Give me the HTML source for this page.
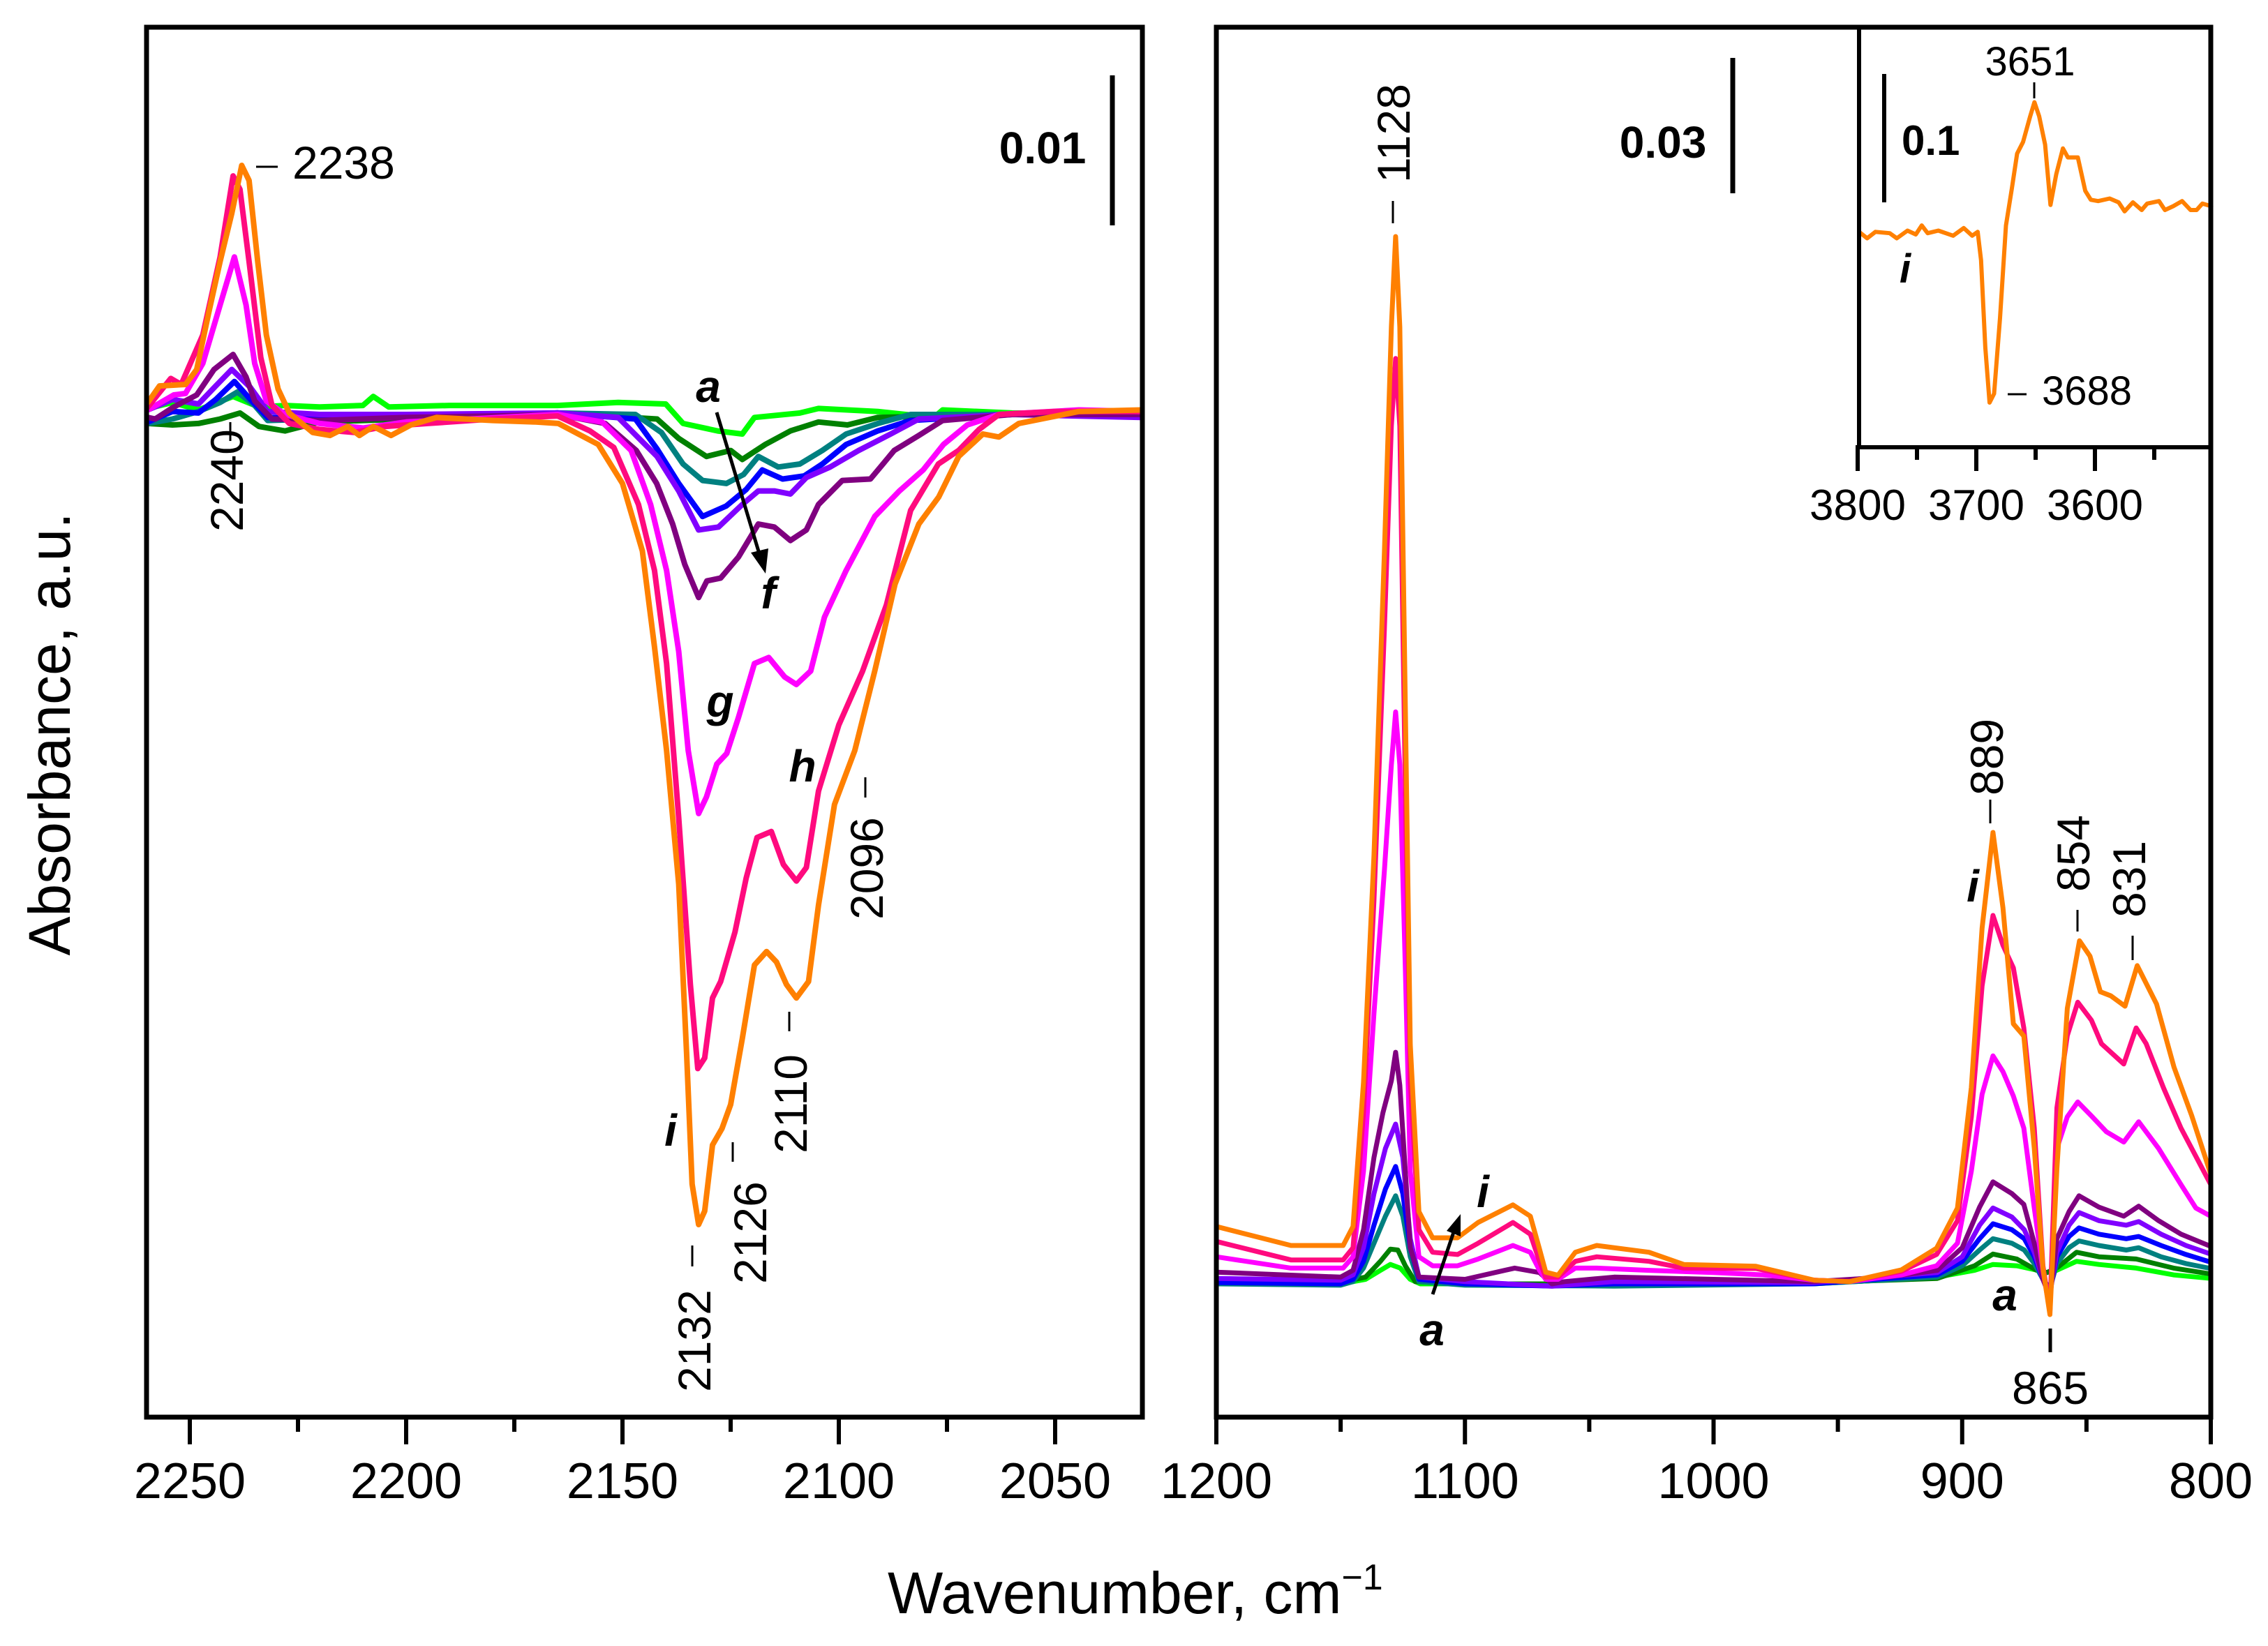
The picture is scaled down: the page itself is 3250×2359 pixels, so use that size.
<!DOCTYPE html>
<html><head><meta charset="utf-8"><title>IR spectra</title>
<style>
html,body{margin:0;padding:0;background:#fff;}
svg{display:block;font-family:"Liberation Sans",Arial,sans-serif;}
</style></head>
<body>
<svg id="chart" width="3250" height="2359" viewBox="0 0 3250 2359" xmlns="http://www.w3.org/2000/svg">
<rect x="0" y="0" width="3250" height="2359" fill="#fff"/>
<g id="left-curves"></g>
<g id="right-curves"></g>
<g id="inset-curves"></g>
<g id="axes"></g>
<g id="labels" font-size="66">
  <line x1="367" y1="239" x2="398" y2="239" stroke="#000" stroke-width="3"/>
  <text x="419" y="256">2238</text>
  <line x1="330" y1="605" x2="330" y2="632" stroke="#000" stroke-width="3"/>
  <text transform="translate(348,762) rotate(-90)">2240</text>
  <line x1="992" y1="1785" x2="992" y2="1815" stroke="#000" stroke-width="3"/>
  <text transform="translate(1018,1995) rotate(-90)">2132</text>
  <line x1="1050" y1="1637" x2="1050" y2="1665" stroke="#000" stroke-width="3"/>
  <text transform="translate(1098,1840) rotate(-90)">2126</text>
  <line x1="1131" y1="1450" x2="1131" y2="1478" stroke="#000" stroke-width="3"/>
  <text transform="translate(1156,1653) rotate(-90)">2110</text>
  <line x1="1240" y1="1114" x2="1240" y2="1143" stroke="#000" stroke-width="3"/>
  <text transform="translate(1265,1318) rotate(-90)">2096</text>
  <text x="1494" y="234" text-anchor="middle" font-weight="bold" font-size="64">0.01</text>
  <line x1="1594" y1="108" x2="1594" y2="323" stroke="#000" stroke-width="7"/>
  <g font-weight="bold" font-style="italic" font-size="64">
    <text x="1015" y="576" text-anchor="middle">a</text>
    <text x="1101" y="872" text-anchor="middle">f</text>
    <text x="1032" y="1027" text-anchor="middle">g</text>
    <text x="1150" y="1120" text-anchor="middle">h</text>
    <text x="961" y="1642" text-anchor="middle">i</text>
  </g>
  <line x1="1027" y1="591" x2="1090" y2="800" stroke="#000" stroke-width="5"/>
  <polygon points="1097,822 1076,792 1101,786" fill="#000"/>
  <line x1="1996" y1="288" x2="1996" y2="320" stroke="#000" stroke-width="3"/>
  <text transform="translate(2020,262) rotate(-90)">1128</text>
  <text x="2383" y="226" text-anchor="middle" font-weight="bold" font-size="64">0.03</text>
  <line x1="2483" y1="83" x2="2483" y2="277" stroke="#000" stroke-width="7"/>
  <line x1="2852" y1="1146" x2="2852" y2="1180" stroke="#000" stroke-width="3"/>
  <text transform="translate(2870,1140) rotate(-90)">889</text>
  <line x1="2977" y1="1304" x2="2977" y2="1335" stroke="#000" stroke-width="3"/>
  <text transform="translate(2994,1278) rotate(-90)">854</text>
  <line x1="3056" y1="1341" x2="3056" y2="1376" stroke="#000" stroke-width="3"/>
  <text transform="translate(3074,1315) rotate(-90)">831</text>
  <line x1="2938" y1="1904" x2="2938" y2="1938" stroke="#000" stroke-width="5"/>
  <text x="2938" y="2012" text-anchor="middle">865</text>
  <g font-weight="bold" font-style="italic" font-size="64">
    <text x="2827" y="1292" text-anchor="middle">i</text>
    <text x="2873" y="1878" text-anchor="middle">a</text>
    <text x="2125" y="1730" text-anchor="middle">i</text>
    <text x="2052" y="1928" text-anchor="middle">a</text>
  </g>
  <line x1="2053" y1="1855" x2="2085" y2="1760" stroke="#000" stroke-width="5"/>
  <polygon points="2093,1740 2093,1772 2073,1764" fill="#000"/>
  <line x1="2700" y1="106" x2="2700" y2="290" stroke="#000" stroke-width="6"/>
  <text x="2725" y="222" font-weight="bold" font-size="60">0.1</text>
  <text x="2909" y="108" text-anchor="middle" font-size="58">3651</text>
  <line x1="2915" y1="118" x2="2915" y2="141" stroke="#000" stroke-width="3"/>
  <line x1="2877" y1="565" x2="2904" y2="565" stroke="#000" stroke-width="3"/>
  <text x="2926" y="580" font-size="58">3688</text>
  <text x="2722" y="405" font-weight="bold" font-style="italic" font-size="58">i</text>
  <text transform="translate(100,1052) rotate(-90)" text-anchor="middle" font-size="84">Absorbance, a.u.</text>
  <text x="1272" y="2312" font-size="84">Wavenumber, cm<tspan dy="-34" font-size="52">−1</tspan></text>
</g>
</svg>
<script>
const seriesNames = ["a","b","c","d","e","f","g","h","i"];
const seriesColors = ["#00ff00","#008000","#008080","#0000ff","#8000ff","#800080","#ff00ff","#ff0a7e","#ff8000"];

const leftA = [[2259.7,0.4],[2254,0.8],[2248,0.3],[2240,1.2],[2234,0.5],[2228,0.6],[2220,0.5],[2210,0.6],[2207.6,1.2],[2204,0.5],[2190,0.6],[2165,0.6],[2151,0.8],[2140,0.7],[2136,-0.6],[2128,-1.1],[2122.3,-1.3],[2119.5,-0.2],[2109,0.1],[2104.7,0.4],[2091,0.2],[2078,-0.2],[2076,0.3],[2060,0.1],[2030,0]];
const leftB = [[2259.7,-0.6],[2254,-0.7],[2248,-0.6],[2243,-0.3],[2238.4,0.1],[2234,-0.8],[2228,-1.1],[2220,-0.5],[2200,-0.3],[2165,0.1],[2142,-0.3],[2137,-1.6],[2130.6,-2.8],[2125,-2.4],[2122.3,-3],[2117,-2],[2111.2,-1.1],[2104.7,-0.5],[2098,-0.7],[2091,-0.2],[2060,0],[2030,0]];
const leftC = [[2259.7,-0.6],[2254,-0.3],[2248,0.2],[2243,0.8],[2239,1.5],[2235,0.6],[2232,-0.4],[2220,-0.3],[2165,0.1],[2147,0],[2141,-1.2],[2136,-3.3],[2131.5,-4.4],[2126,-4.6],[2122,-4],[2118.6,-2.8],[2114,-3.5],[2109,-3.3],[2103.8,-2.4],[2098.3,-1.3],[2091,-0.6],[2083.4,0],[2060,0],[2030,0]];
const leftD = [[2259.7,-0.5],[2254,0.2],[2248,0.1],[2244,1.0],[2239.7,2.2],[2236,1.0],[2232,-0.2],[2220,-0.3],[2165,0.1],[2147,-0.3],[2142,-2.3],[2137,-4.6],[2131.5,-6.8],[2126,-6.1],[2121.4,-5],[2117.7,-3.7],[2113,-4.3],[2108,-4.1],[2103.8,-3.3],[2098.3,-2],[2091,-1.1],[2083.4,-0.4],[2060,0],[2030,0]];
const leftE = [[2259.7,0.3],[2254,1.0],[2248,0.7],[2244,1.9],[2240.3,3.0],[2236,1.8],[2232,0.2],[2220,0],[2200,0],[2165,0.1],[2151,-0.2],[2142,-2.8],[2137,-5.1],[2132.4,-7.7],[2127.8,-7.5],[2122.3,-6],[2118.6,-5.1],[2114.9,-5.1],[2111.2,-5.3],[2107.5,-4.2],[2102,-3.5],[2095.4,-2.4],[2088,-1.3],[2081.5,-0.3],[2060,0],[2030,-0.2]];
const leftF = [[2259.7,-0.2],[2258,-0.3],[2253.7,0.5],[2248.4,1.3],[2244.4,3],[2240,4],[2237,2.5],[2235,0.9],[2231,-0.3],[2220,-0.4],[2200,-0.2],[2180,-0.1],[2165,0],[2154,-0.6],[2146.8,-2.4],[2142.1,-4.6],[2138.4,-7.3],[2135.6,-10],[2132.4,-12.2],[2130.5,-11.1],[2127.3,-10.9],[2123.2,-9.5],[2118.6,-7.3],[2114.9,-7.5],[2111.2,-8.4],[2107.5,-7.7],[2104.7,-6],[2099.2,-4.4],[2092.7,-4.3],[2087.2,-2.4],[2081.5,-1.4],[2076,-0.4],[2060,0],[2030,0]];
const leftG = [[2259.7,0.3],[2253.7,1.3],[2251,1.4],[2247,3.4],[2243,7.3],[2239.7,10.5],[2237,7.3],[2235,3.4],[2232.3,0.9],[2228,0],[2220,-0.6],[2210,-0.9],[2200,-0.5],[2185,-0.3],[2165,0],[2154.7,-0.5],[2148,-2.4],[2143.5,-6],[2139.8,-10.4],[2137,-15.8],[2134.8,-22.4],[2132.4,-26.6],[2130.6,-25.5],[2128.2,-23.3],[2125.9,-22.6],[2123.2,-20.2],[2119.5,-16.6],[2116.2,-16.2],[2112.5,-17.5],[2109.8,-18],[2106.5,-17.1],[2103.3,-13.5],[2098.3,-10.4],[2091.7,-6.8],[2086,-5.1],[2080.5,-3.7],[2075.8,-2],[2070.3,-0.7],[2063,0],[2044.5,0.3],[2030,0.2]];
const leftH = [[2259.7,0.5],[2254.4,2.4],[2252,2.0],[2247,5.3],[2243,10.5],[2240,15.9],[2238.4,15],[2236.3,10.2],[2233.6,3.8],[2231,0.6],[2227,-0.6],[2220,-1.0],[2212,-1.2],[2205,-0.8],[2195,-0.6],[2180,-0.3],[2165,-0.1],[2157.5,-1.1],[2152,-2.2],[2146.3,-6],[2142.6,-10.4],[2139.8,-16.6],[2137,-26.9],[2134.3,-38],[2132.6,-43.6],[2131,-42.9],[2129.2,-38.9],[2127.3,-37.8],[2124,-34.5],[2121.4,-30.9],[2118.9,-28.2],[2115.6,-27.8],[2112.8,-30],[2109.8,-31.1],[2107.5,-30.2],[2104.7,-25.1],[2100,-20.7],[2094.5,-17.1],[2089,-12.7],[2083.4,-6.4],[2077,-3.3],[2072.3,-2.4],[2067.6,-1.0],[2063,0],[2050,0.2],[2030,0.2]];
const leftI = [[2259.7,0.8],[2257,1.9],[2251,2.0],[2248.4,3.0],[2245.7,6.7],[2243,10.2],[2240.3,13.4],[2238,16.6],[2236.3,15.6],[2234.3,10.2],[2232.3,5.3],[2229.6,1.7],[2227,0.1],[2221.6,-1.2],[2217.6,-1.4],[2213.5,-0.8],[2210.8,-1.4],[2207.6,-0.8],[2203.5,-1.4],[2198.9,-0.7],[2193,-0.2],[2180,-0.4],[2170,-0.5],[2164.8,-0.6],[2155.6,-2.0],[2150,-4.6],[2145.4,-9.1],[2142.6,-15.5],[2139.8,-22.4],[2137,-31.3],[2135.2,-42.5],[2133.9,-51.3],[2132.4,-54],[2131,-53.1],[2129.2,-48.7],[2127,-47.6],[2125,-46],[2122.3,-41.6],[2119.5,-36.7],[2116.7,-35.8],[2114.4,-36.5],[2112.1,-38],[2109.8,-38.9],[2107,-37.8],[2104.7,-32.7],[2101,-26],[2096.3,-22.4],[2091.7,-17.1],[2087,-11.3],[2081.5,-7.3],[2076.9,-5.5],[2072.3,-2.8],[2066.7,-1.3],[2063,-1.5],[2058.4,-0.6],[2044.5,0.2],[2030,0.3]];

const rightA = [[1200,0.2],[1150,0],[1140,1],[1134,3],[1130,4.3],[1126,3.5],[1122,1],[1118,0],[1060,0],[960,0],[910,1.5],[895,3],[887.6,4.3],[878,4],[868,2.8],[866,2.5],[862,3],[854,5],[845,4.3],[830,3.5],[815,2],[800,1.2]];
const rightB = [[1200,0.5],[1150,0.3],[1140,1.5],[1134,5],[1130,7.7],[1127,7.5],[1124,4],[1120,0.5],[1100,0],[1040,0],[960,0.2],[910,1.2],[895,4],[887.6,6.6],[878,5.5],[870,3],[866,2.5],[862,3.5],[854,7],[845,6],[830,5.5],[815,3.5],[800,2.2]];
const rightC = [[1200,0],[1150,-0.3],[1145,0.5],[1140.8,3.5],[1136.6,9],[1132,15],[1127.9,19.5],[1125,15],[1122,6],[1118.5,0.5],[1100,-0.3],[1040,-0.5],[960,0],[910,1.5],[900,4],[893,7.5],[887.6,10],[880,9],[875,7.5],[871,4.5],[867.5,1],[864.7,-1],[861.9,4.5],[857,8],[853,9.5],[845,8.5],[834,7.5],[829,8],[820,6],[810,4.5],[800,3.4]];
const rightD = [[1200,0.3],[1150,0],[1145,1],[1140.8,5],[1136.6,13],[1132,21],[1127.9,26],[1125,20],[1122,8],[1118.5,1],[1100,0],[1065,-0.5],[1040,0],[960,0],[910,2],[900,5],[893,10],[887.6,13.3],[880,12],[875,10],[871,6],[867.5,1],[864.7,-1.5],[861.9,6],[857,10.5],[853,12.4],[845,11],[834,10],[829,10.5],[820,8.5],[810,6.5],[800,4.8]];
const rightE = [[1200,1.2],[1150,0.8],[1145,2],[1140.8,8],[1136.6,20],[1132,30],[1127.9,35.4],[1125,28],[1122,10],[1118.5,1.5],[1100,0.5],[1065,-0.5],[1040,0.5],[960,0.3],[910,2.5],[900,6],[893,13],[887.6,16.8],[880,14.8],[875,12],[871,7],[867.5,1],[864.7,-2],[861.9,7],[857,13],[853,15.8],[845,14],[834,13],[829,13.8],[820,11],[810,8.5],[800,6.6]];
const rightF = [[1200,2.6],[1150,1.5],[1145,3],[1140.8,12],[1136.6,28],[1133,37.9],[1129.6,45],[1127.9,51.3],[1126.2,44],[1124,25],[1122,8],[1118.5,1.5],[1100,1],[1080,3.5],[1070,2.5],[1065,0],[1060,0.5],[1040,1.5],[1000,1],[960,0.5],[930,1.5],[910,3],[900,8],[893,17],[887.6,22.6],[880,20],[875.2,17.6],[871,9],[867.5,1],[864.7,-3],[861.9,10],[857,16],[853,19.5],[845,17],[835,15],[829,17.2],[821,14],[812,11],[800,8.3]];
const rightG = [[1200,6],[1170,3.5],[1149,3.5],[1145,6],[1140.8,25],[1136.6,60],[1132.4,91.5],[1129.6,115],[1127.9,126.7],[1126.2,115],[1124,70],[1122,25],[1118.5,6],[1113,4],[1103,4],[1094.7,5.5],[1080.7,8.5],[1073.7,7],[1070,3],[1067.5,1],[1062.6,1],[1055.6,3.5],[1047,3.5],[1026,3],[1000,2.5],[980,2],[959.4,0.8],[945.4,0.5],[924.4,2],[910.3,4],[901.9,9],[896.3,25],[892,42],[887.6,50.5],[883.6,47],[879.4,41.6],[875.2,34.5],[871,16.8],[867.5,3],[864.7,-6],[861.9,30],[857.7,37],[853.5,40.3],[848,37.2],[842,33.7],[835,31.4],[829,35.9],[821,30],[812,22],[806,16.8],[800,15]];
const rightH = [[1200,9.4],[1170,5.3],[1149,5.3],[1145,8],[1140.8,38],[1136.6,85],[1132.4,145],[1129.6,190],[1127.9,205],[1126.2,190],[1124,110],[1122,45],[1118.5,12],[1113,7],[1103,6.5],[1094.7,9],[1080.7,13.6],[1073.7,11],[1070,5],[1067.5,1.5],[1062.6,1.5],[1055.6,5],[1047,6],[1026,5],[1012,3.5],[983,3.4],[959.4,0.8],[945.4,0.5],[924.4,2.8],[910.3,6.5],[901.9,14],[896.3,37],[892,66],[887.6,81.6],[883.6,75],[879.4,70],[875.2,56.7],[871,34.5],[867.5,4],[864.7,-6],[861.9,39],[857.7,55],[853.5,62.4],[848,58.4],[844,53.2],[835,48.7],[830,56.7],[826,53.2],[819,43.4],[812,34.5],[800,22]];
const rightI = [[1200,12.7],[1170,8.5],[1149,8.5],[1145,12.7],[1140.8,44.7],[1136.6,95],[1132.4,162],[1129.6,212],[1127.9,232],[1126.2,212],[1124,128],[1122,53],[1118.5,16],[1113,10.2],[1103,10.2],[1094.7,13.6],[1080.7,17.5],[1073.7,15],[1070,7.7],[1067.5,2.6],[1062.6,1.9],[1055.6,7],[1047,8.5],[1026,7],[1012,4.3],[983,3.9],[959.4,0.8],[945.4,0.5],[924.4,3.1],[910.3,7.9],[901.9,16.8],[896.3,43.5],[892,78.8],[887.6,100],[883.6,83.3],[879.4,57.6],[875.2,54.9],[871,30],[867.5,3.4],[864.7,-6.8],[861.9,25.6],[857.7,61],[852.8,76],[848.6,72.6],[844.4,64.7],[840.2,63.8],[834.5,61.5],[829.6,70.5],[821.8,62],[814.8,48],[807.7,37.3],[800,24.3]];

const insetI = [[3798.8,0.2],[3792,-0.3],[3785,0.2],[3773,0.1],[3767,-0.3],[3758,0.3],[3751,0],[3746,0.7],[3741,0.1],[3732,0.3],[3719.5,-0.1],[3710.6,0.5],[3703.5,-0.1],[3698.8,0.2],[3696,-2],[3692.4,-8.8],[3688.8,-13.1],[3685,-12.4],[3680,-6.5],[3675,0.7],[3670,3.6],[3665.6,6.3],[3660.6,7.2],[3654.6,9.2],[3651,10.3],[3647,9.2],[3642,7],[3637.5,2.3],[3632.6,4.7],[3627,6.7],[3622.8,6],[3614.4,6],[3608.2,3.4],[3603.5,2.7],[3597.3,2.6],[3587.6,2.8],[3580,2.5],[3575,1.8],[3568,2.5],[3560.6,1.9],[3556,2.4],[3546,2.6],[3541,1.9],[3534,2.2],[3526.5,2.6],[3519.4,1.9],[3514.3,1.9],[3509.4,2.4],[3502,2.2]];

const leftTicksMajor = [2250,2200,2150,2100,2050];
const leftTicksMinor = [2225,2175,2125,2075];
const rightTicksMajor = [1200,1100,1000,900,800];
const rightTicksMinor = [1150,1050,950,850];
const insetTicksMajor = [3800,3700,3600];
const insetTicksMinor = [3750,3650,3550];

const xL = w => 272 + (2250 - w) * 6.2;
const yL = v => 594 - v * 21.5;
const xR = w => 1743 + (1200 - w) * 3.5625;
const yR = v => 1840 - v * 6.47;
const xI = w => 2662 + (3800 - w) * 1.7;
const yI = v => 336 - v * 18.4;

const NS = "http://www.w3.org/2000/svg";
function pathFrom(data, fx, fy){
  return data.map((p,i)=>(i?"L":"M")+fx(p[0]).toFixed(1)+","+fy(p[1]).toFixed(1)).join(" ");
}
function addPath(parent, d, color, w){
  const el = document.createElementNS(NS,"path");
  el.setAttribute("d", d);
  el.setAttribute("fill","none");
  el.setAttribute("stroke", color);
  el.setAttribute("stroke-width", w);
  el.setAttribute("stroke-linejoin","round");
  el.setAttribute("stroke-linecap","round");
  parent.appendChild(el);
  return el;
}
const leftSeries = [leftA,leftB,leftC,leftD,leftE,leftF,leftG,leftH,leftI];
const rightSeries = [rightA,rightB,rightC,rightD,rightE,rightF,rightG,rightH,rightI];
const gL = document.getElementById("left-curves");
const gR = document.getElementById("right-curves");
const gI = document.getElementById("inset-curves");
leftSeries.forEach((s,k)=>{
  const el = addPath(gL, pathFrom(s,xL,yL), seriesColors[k], 8);
  
  
});
rightSeries.forEach((s,k)=>{
  const el = addPath(gR, pathFrom(s,xR,yR), seriesColors[k], 7);
  
  
});
{
  const el = addPath(gI, pathFrom(insetI,xI,yI), "#ff8000", 6);
  
  
}

const gA = document.getElementById("axes");
function line(x1,y1,x2,y2,w){
  const el = document.createElementNS(NS,"line");
  el.setAttribute("x1",x1);el.setAttribute("y1",y1);el.setAttribute("x2",x2);el.setAttribute("y2",y2);
  el.setAttribute("stroke","#000");el.setAttribute("stroke-width",w);el.setAttribute("stroke-linecap","square");
  gA.appendChild(el);return el;
}
function text(x,y,s,size){
  const el = document.createElementNS(NS,"text");
  el.setAttribute("x",x);el.setAttribute("y",y);el.setAttribute("text-anchor","middle");el.setAttribute("font-size",size);
  el.textContent = s;gA.appendChild(el);return el;
}
function frame(x1,y1,x2,y2,name,w){
  const r = document.createElementNS(NS,"rect");
  r.setAttribute("x",x1);r.setAttribute("y",y1);r.setAttribute("width",x2-x1);r.setAttribute("height",y2-y1);
  r.setAttribute("fill","none");r.setAttribute("stroke","#000");r.setAttribute("stroke-width",w);
  
  
  gA.appendChild(r);
}
frame(210,39,1637,2031,"left-panel-frame",7);
frame(1743,39,3168,2031,"right-panel-frame",7);
frame(2664,39,3168,641,"inset-frame",6);

leftTicksMajor.forEach(w=>{
  const t = line(xL(w),2031,xL(w),2067,6);
  
  
  const l = text(xL(w),2147,String(w),72);
  
  
});
leftTicksMinor.forEach(w=>{
  const t = line(xL(w),2031,xL(w),2049,6);
  
  
});
rightTicksMajor.forEach(w=>{
  const t = line(xR(w),2031,xR(w),2067,6);
  
  
  const l = text(xR(w),2147,String(w),72);
  
  
});
rightTicksMinor.forEach(w=>{
  const t = line(xR(w),2031,xR(w),2049,6);
  
  
});
insetTicksMajor.forEach(w=>{
  const t = line(xI(w),641,xI(w),672,6);
  
  
  const l = text(xI(w),745,String(w),62);
  
  
});
insetTicksMinor.forEach(w=>{
  const t = line(xI(w),641,xI(w),656,6);
  
  
});
</script>
</body></html>
